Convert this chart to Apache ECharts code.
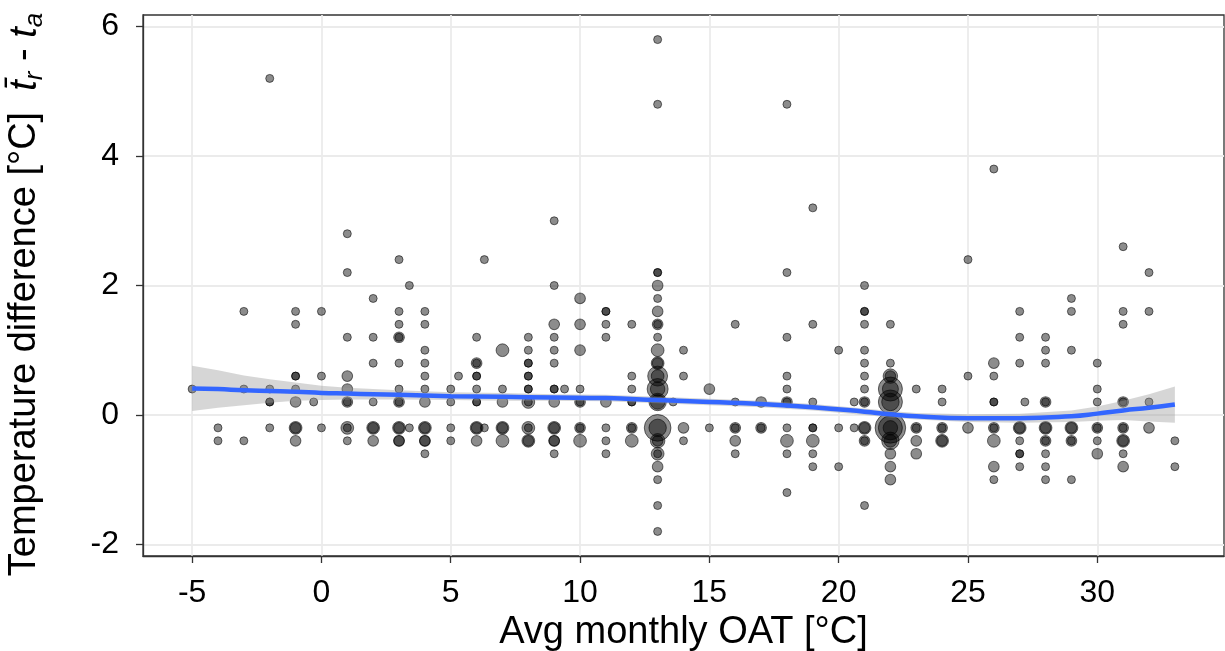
<!DOCTYPE html>
<html><head><meta charset="utf-8">
<script src="https://cdn.jsdelivr.net/npm/echarts@6/dist/echarts.min.js"></script>
<style>html,body{margin:0;padding:0;background:#fff}#c{width:1225px;height:651px}</style>
</head><body><div id="c"></div>
<script>
// Observations grouped by x (avg monthly OAT), each column: y values and counts n
const colX = [-5,-4,-3,-2,-1,-0.3,0,1,2,3,3.4,4,5,5.3,6,6.3,7,8,9,9.4,10,11,12,13,13.6,14,15,16,17,18,19,20,20.6,21,22,23,24,25,26,27,27.2,28,29,30,31,32,33];
const colY = [
  [0.4],
  [-0.2,-0.4],
  [1.6,0.4,-0.4],
  [5.2,0.4,0.2,0.2,-0.2],
  [1.6,1.4,0.6,0.6,0.4,0.2,-0.2,-0.2,-0.4],
  [0.2],
  [1.6,0.6,-0.2],
  [2.8,2.2,1.2,0.6,0.4,0.2,0.2,-0.2,-0.2,-0.4],
  [1.8,1.2,0.8,0.2,-0.2,-0.2,-0.4],
  [2.4,1.6,1.4,1.2,1.2,0.8,0.4,0.2,0.2,-0.2,-0.2,-0.4,-0.4],
  [2.0,-0.2],
  [1.6,1.4,1.0,0.8,0.6,0.4,0.2,-0.2,-0.2,-0.4,-0.4,-0.6],
  [0.4,0.2,-0.2,-0.4],
  [0.6],
  [1.2,0.8,0.8,0.6,0.6,0.4,0.2,0.2,-0.2,-0.2,-0.4],
  [2.4,-0.2],
  [1.0,0.4,0.2,-0.2,-0.2,-0.4],
  [1.2,1.0,0.8,0.8,0.6,0.6,0.4,0.4,0.2,0.2,-0.2,-0.2,-0.4,-0.4],
  [3.0,2.0,1.4,1.2,1.0,0.8,0.4,0.4,0.2,-0.2,-0.2,-0.4,-0.4,-0.6],
  [0.4],
  [1.8,1.4,1.0,0.4,0.2,0.2,-0.2,-0.2,-0.4],
  [1.6,1.6,1.4,1.2,0.2,-0.2,-0.4,-0.6],
  [1.4,0.6,0.4,0.2,0.2,-0.2,-0.2,-0.4],
  [5.8,4.8,2.2,2.2,2.0,1.8,1.6,1.4,1.4,1.2,1.0,0.8,0.8,0.6,0.6,0.4,0.4,0.2,0.2,-0.2,-0.2,-0.4,-0.4,-0.6,-0.6,-0.8,-1.0,-1.4,-1.8],
  [0.2],
  [1.0,0.6,-0.2,-0.4],
  [0.4,-0.2],
  [1.4,0.2,-0.2,-0.2,-0.4,-0.6],
  [0.2,-0.2,-0.2],
  [4.8,2.2,1.2,0.6,0.4,0.2,0.2,-0.2,-0.4,-0.6,-1.2],
  [3.2,1.4,0.2,-0.2,-0.2,-0.4,-0.6,-0.8],
  [1.0,-0.2,-0.8],
  [0.2,-0.2],
  [2.0,1.6,1.6,1.4,1.0,0.8,0.6,0.4,0.2,0.2,-0.2,-0.2,-0.4,-0.4,-1.4],
  [1.4,0.8,0.6,0.6,0.4,0.4,0.2,0.2,-0.2,-0.2,-0.2,-0.4,-0.4,-0.6,-0.8,-1.0],
  [0.4,-0.2,-0.2,-0.4,-0.6],
  [0.4,0.2,-0.2,-0.2,-0.4,-0.4],
  [2.4,0.6,-0.2],
  [3.8,0.8,0.6,0.2,0.2,-0.2,-0.2,-0.4,-0.8,-1.0],
  [1.6,1.2,0.8,-0.2,-0.2,-0.4,-0.6,-0.6,-0.8],
  [0.2],
  [1.2,1.0,0.8,0.2,0.2,-0.2,-0.2,-0.4,-0.4,-0.6,-0.8,-1.0],
  [1.8,1.6,1.0,-0.2,-0.2,-0.4,-0.4,-1.0],
  [0.8,0.4,0.2,-0.2,-0.2,-0.4,-0.6],
  [2.6,1.6,1.4,0.2,0.2,-0.2,-0.2,-0.4,-0.4,-0.6,-0.8],
  [2.2,1.6,0.2,-0.2],
  [-0.4,-0.8]
];
const colN = [
  [1],
  [1,1],
  [1,1,1],
  [1,1,1,1,1],
  [1,1,1,1,1,2,3,2,2],
  [1],
  [1,1,1],
  [1,1,1,2,2,2,1,3,1,1],
  [1,1,1,1,3,2,2],
  [1,1,1,2,1,1,1,2,1,3,2,2,2],
  [1,1],
  [1,1,1,1,1,1,2,3,2,2,2,1],
  [1,1,1,1],
  [1],
  [1,2,1,1,1,1,1,1,3,2,2],
  [1,1],
  [3,1,2,3,2,3],
  [1,1,1,1,1,1,1,1,3,1,3,1,3,2],
  [1,1,2,1,1,1,1,1,2,3,2,2,2,1],
  [1],
  [2,2,2,1,2,1,2,1,3],
  [1,1,1,1,2,1,1,1],
  [1,1,1,1,1,2,1,3],
  [1,1,1,1,2,1,2,2,1,1,3,3,2,8,3,9,4,6,4,15,6,4,2,3,1,2,1,1,1],
  [1],
  [1,1,2,1],
  [2,1],
  [1,1,2,1,2,1],
  [2,2,1],
  [1,1,1,1,1,2,1,1,3,1,1],
  [1,1,1,1,1,3,1,1],
  [1,1,1],
  [1,1],
  [1,1,1,1,1,1,1,1,2,1,3,2,2,1,1],
  [1,1,4,2,12,5,12,6,20,12,4,6,3,2,2,2],
  [1,2,1,2,2],
  [1,1,2,1,3,2],
  [1,1,2],
  [1,2,1,1,1,2,1,3,2,1],
  [1,1,1,3,2,1,1,1,1],
  [1],
  [1,1,1,2,1,3,2,2,1,1,1,1],
  [1,1,1,3,2,2,1,1],
  [1,1,1,2,1,1,2],
  [1,1,1,2,1,2,1,3,2,1,2],
  [1,1,1,2],
  [1,1]
];
// Smoothed fit and its confidence band
const fitX  = [-5,-4,-3,-2,-1,0,1,2,3,5,7,9,11,13,15,17,19,21,22,23,25,27,29,30,31,32,33];
const fitY  = [0.41,0.40,0.38,0.37,0.36,0.34,0.33,0.32,0.31,0.29,0.28,0.27,0.26,0.23,0.20,0.17,0.12,0.05,0.01,-0.02,-0.05,-0.05,-0.02,0.02,0.07,0.11,0.16];
const fitLo = [0.06,0.11,0.15,0.19,0.22,0.23,0.24,0.24,0.24,0.23,0.22,0.22,0.21,0.18,0.15,0.12,0.07,0.00,-0.04,-0.07,-0.11,-0.12,-0.11,-0.09,-0.08,-0.10,-0.12];
const fitHi = [0.76,0.69,0.61,0.55,0.50,0.45,0.42,0.40,0.38,0.35,0.34,0.32,0.31,0.28,0.25,0.22,0.17,0.10,0.06,0.03,0.01,0.02,0.07,0.13,0.22,0.32,0.44];
const xTicks = [-5,0,5,10,15,20,25,30];
const yTicks = [-2,0,2,4,6];

const pts = [];
colX.forEach((x, i) => colY[i].forEach((y, j) => pts.push([x, y, colN[i][j]])));

const FONT = 'Liberation Sans, Arial, sans-serif';
const chart = echarts.init(document.getElementById('c'), null, {renderer: 'canvas'});
const axisCommon = {
  axisLine: {show: true, onZero: false, lineStyle: {color: '#333', width: 1.3}},
  axisTick: {show: true, length: 7, inside: false, lineStyle: {color: '#333', width: 1.3}},
  splitLine: {show: true, lineStyle: {color: '#ebebeb', width: 1.8}},
  nameLocation: 'middle',
  nameTextStyle: {fontFamily: FONT, fontSize: 38, color: '#000'}
};
chart.setOption({
  animation: false,
  backgroundColor: '#fff',
  grid: {left: 143, right: 1, top: 15, bottom: 95, containLabel: false, outerBoundsMode: 'none',
         show: true, borderColor: '#333', borderWidth: 1.3, backgroundColor: 'transparent'},
  xAxis: Object.assign({}, axisCommon, {
    type: 'value', min: -6.9, max: 34.9,
    name: 'Avg monthly OAT [°C]', nameGap: 58,
    axisTick: Object.assign({}, axisCommon.axisTick, {customValues: xTicks}),
    axisLabel: {customValues: xTicks, fontFamily: FONT, fontSize: 32, color: '#000', margin: 21}
  }),
  yAxis: Object.assign({}, axisCommon, {
    type: 'value', min: -2.18, max: 6.18,
    name: '{a|Temperature difference [°C]  }{i|t\u0304}{s|r}{a| - }{i|t}{s|a}{p|}',
    nameGap: 95, nameRotate: 90,
    nameTextStyle: {
      fontFamily: FONT, fontSize: 38, color: '#000',
      rich: {
        a: {fontFamily: FONT, fontSize: 38, color: '#000', lineHeight: 46},
        i: {fontFamily: FONT, fontSize: 38, fontStyle: 'italic', color: '#000', lineHeight: 46},
        s: {fontFamily: FONT, fontSize: 26, fontStyle: 'italic', color: '#000', verticalAlign: 'bottom', lineHeight: 32},
        p: {width: 18, lineHeight: 46}
      }
    },
    axisTick: Object.assign({}, axisCommon.axisTick, {customValues: yTicks}),
    axisLabel: {customValues: yTicks, fontFamily: FONT, fontSize: 32, color: '#000', margin: 24}
  }),
  series: [
    {
      type: 'scatter', data: pts, z: 2,
      symbolSize: d => 6.5 * Math.sqrt(d[2]) + 1.5,
      itemStyle: {color: 'rgba(0,0,0,0.45)', borderColor: 'rgba(0,0,0,0.55)', borderWidth: 1, opacity: 1}
    },
    {
      type: 'custom', z: 3, silent: true,
      data: [0],
      renderItem: (params, api) => {
        const up = fitX.map((x, i) => api.coord([x, fitHi[i]]));
        const dn = fitX.map((x, i) => api.coord([x, fitLo[i]])).reverse();
        return {
          type: 'polygon',
          shape: {points: up.concat(dn)},
          style: {fill: 'rgba(153,153,153,0.4)', stroke: null}
        };
      }
    },
    {
      type: 'line', smooth: true, symbol: 'none', z: 4, silent: true,
      data: fitX.map((x, i) => [x, fitY[i]]),
      lineStyle: {color: '#3366FF', width: 4.5}
    }
  ]
});
</script></body></html>
